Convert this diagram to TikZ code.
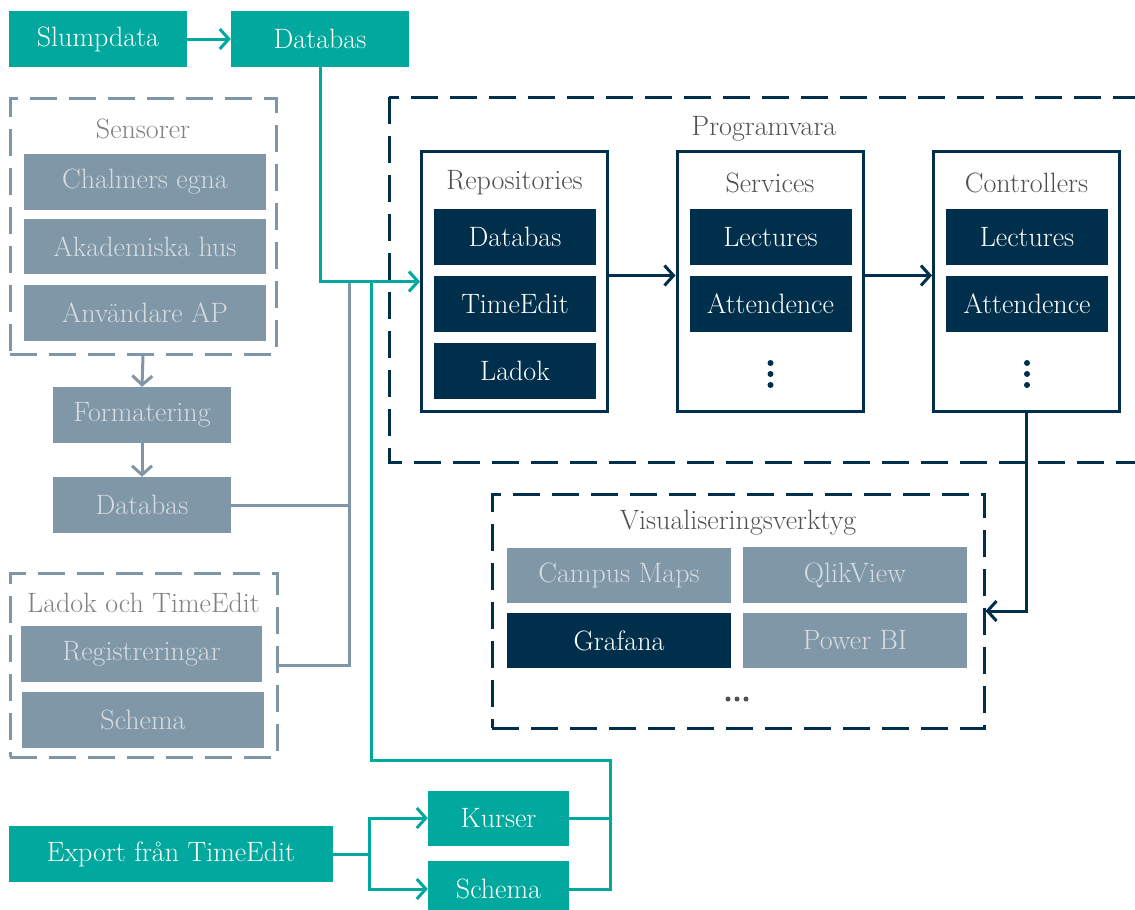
\documentclass[tikz,border=0pt]{standalone}
\usetikzlibrary{arrows.meta}
\definecolor{tealc}{RGB}{0,168,157}
\definecolor{navy}{RGB}{0,47,76}
\definecolor{gblue}{RGB}{128,151,168}
\definecolor{gline}{RGB}{128,150,167}
\definecolor{ltext}{RGB}{214,220,225}
\definecolor{ttlgray}{RGB}{128,128,128}
\definecolor{ttldark}{RGB}{80,80,80}
\begin{document}
\begin{tikzpicture}[x=1pt,y=-1pt,
  font=\fontsize{28}{32}\selectfont,
  box/.style={inner sep=0pt, minimum height=56pt, anchor=center},
  tealbox/.style={box, fill=tealc, text=white},
  navybox/.style={box, fill=navy, text=white, minimum width=162pt},
  graybox/.style={box, fill=gblue, text=ltext},
  frame/.style={draw, line width=3pt, dash pattern=on 27pt off 12pt, inner sep=0pt},
  solidframe/.style={draw=navy, line width=3pt, fill=white, inner sep=0pt, minimum width=186pt, minimum height=260pt},
  title/.style={inner sep=0pt, anchor=center},
  tip/.style={-{Straight Barb[length=9pt,width=20pt,line width=3pt]}},
  tline/.style={draw=tealc, line width=3pt},
  nline/.style={draw=navy, line width=3pt},
  gl/.style={draw=gline, line width=3pt},
  dot/.style={circle, inner sep=0pt, minimum size=6pt}
]
\useasboundingbox (0,0) rectangle (1135,910);
\clip (0,0) rectangle (1135,910);

% top
\node[tealbox, minimum width=178pt] (slump) at (98,39) {Slumpdata};
\node[tealbox, minimum width=178pt] (db1) at (320,39) {Databas};

% Sensorer
\node[frame, draw=gline, minimum width=266pt, minimum height=256pt] (sens) at (143,226) {};
\node[title, text=ttlgray] (senst) at (143,129) {Sensorer};
\node[graybox, minimum width=242pt] (chal) at (145,182) {Chalmers egna};
\node[graybox, minimum width=242pt, minimum height=55pt] (akad) at (145,246.5) {Akademiska hus};
\node[graybox, minimum width=242pt] (anv) at (145,313) {Användare AP};
\node[graybox, minimum width=178pt] (form) at (142,415) {Formatering};
\node[graybox, minimum width=178pt] (db2) at (142,505) {Databas};

% Ladok och TimeEdit
\node[frame, draw=gline, minimum width=267pt, minimum height=184pt] (ladf) at (143.5,665) {};
\node[title, text=ttlgray] (ladt) at (143.5,603) {Ladok och TimeEdit};
\node[graybox, minimum width=241pt] (reg) at (141.5,654) {Registreringar};
\node[graybox, minimum width=242pt] (sch1) at (143,720) {Schema};

% Export
\node[tealbox, minimum width=324pt] (exp) at (171,854) {Export från TimeEdit};
\node[tealbox, minimum width=141pt, minimum height=55pt] (kurs) at (498.5,818) {Kurser};
\node[tealbox, minimum width=141pt] (sch2) at (498.5,889) {Schema};

% Programvara
\draw[frame, draw=navy] (389,97) rectangle (1160,462);
\node[title, text=ttldark] (progt) at (764,129) {Programvara};
\node[solidframe] (repo) at (514.5,281.5) {};
\node[solidframe] (serv) at (770,281.5) {};
\node[solidframe] (ctrl) at (1026.5,281.5) {};
\node[title, text=ttldark] at (514.5,183) {Repositories};
\node[title, text=ttldark] at (770,183) {Services};
\node[title, text=ttldark] at (1026.5,183) {Controllers};
\node[navybox] (rdb) at (515,237) {Databas};
\node[navybox] (rte) at (515,304) {TimeEdit};
\node[navybox] (rla) at (515,371) {Ladok};
\node[navybox] (slec) at (770.5,237) {Lectures};
\node[navybox] (satt) at (770.5,304) {Attendence};
\foreach \yy [count=\i] in {363,374,385} {
  \node[dot, fill=navy] (sd\i) at (770.5,\yy) {};
  \node[dot, fill=navy] (cd\i) at (1027,\yy) {};
}
\node[navybox] (clec) at (1027,237) {Lectures};
\node[navybox] (catt) at (1027,304) {Attendence};

% Visualiseringsverktyg
\node[frame, draw=navy, minimum width=492pt, minimum height=234pt] (vis) at (738,611) {};
\node[title, text=ttldark] (vist) at (738,523) {Visualiseringsverktyg};
\node[graybox, minimum width=224pt, minimum height=55pt] (camp) at (619,575.5) {Campus Maps};
\node[graybox, minimum width=224pt, minimum height=56pt] (qlik) at (855,575) {QlikView};
\node[box, fill=navy, text=white, minimum width=224pt, minimum height=55pt] (graf) at (619,640.5) {Grafana};
\node[graybox, minimum width=224pt, minimum height=55pt] (pbi) at (855,640.5) {Power BI};
\foreach \xx [count=\i] in {728,737,746} {
  \node[dot, minimum size=5pt, fill=ttldark] (vd\i) at (\xx,699) {};
}

% junction coordinates
\coordinate (jg) at (349,282);
\coordinate (jt) at (371,282);
\coordinate (jb) at (610,760);
\coordinate (je) at (369,854);

% connectors
\draw[tline, tip] (slump) -- (db1);
\draw[gl, tip] (sens.south) -- (form.north);
\draw[gl, tip] (form.south) -- (db2.north);
\draw[gl] (db2.east) -| (jg);
\draw[gl] (ladf.east) -| (jg);
\draw[tline] (jt) |- (jb) |- (sch2.east);
\draw[tline] (kurs.east) -- (kurs.east -| jb);
\draw[tline, tip] (db1.south) |- (repo.west);
\draw[tline] (exp.east) -- (je);
\draw[tline, tip] (je) |- (kurs.west);
\draw[tline, tip] (je) |- (sch2.west);
\draw[nline, tip] ([yshift=6pt]repo.east) -- ([yshift=6pt]serv.west);
\draw[nline, tip] ([yshift=6pt]serv.east) -- ([yshift=6pt]ctrl.west);
\draw[nline, tip] (ctrl.south) |- (vis.east);
\end{tikzpicture}
\end{document}
